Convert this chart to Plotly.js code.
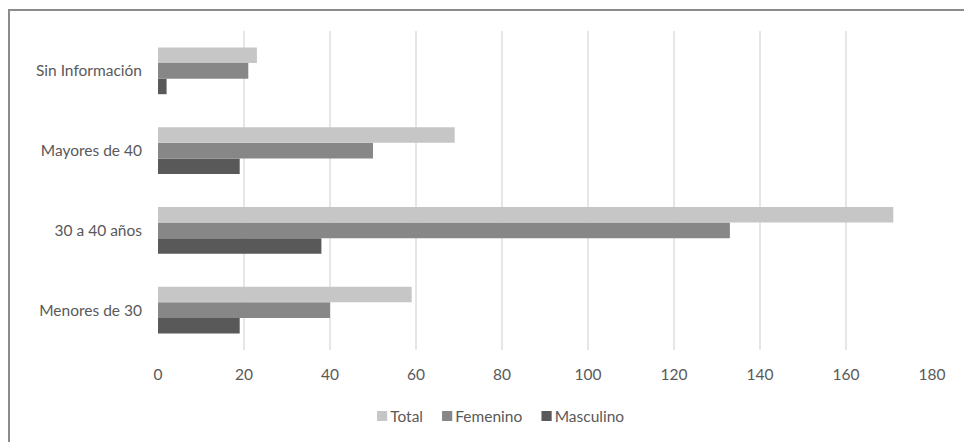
<!DOCTYPE html>
<html>
<head>
<meta charset="utf-8">
<script src="https://cdn.plot.ly/plotly-3.0.1.min.js"></script>
<style>
html,body{margin:0;padding:0;background:#fff;}
#wrap{position:relative;width:964px;height:442px;overflow:hidden;}
#chart{position:absolute;left:0;top:0;width:964px;height:442px;}
#frame{position:absolute;left:8px;top:9px;width:1000px;height:500px;border-top:2px solid #8c8c8c;border-left:2px solid #8c8c8c;pointer-events:none;}
</style>
</head>
<body>
<div id="wrap"><div id="chart"></div><div id="frame"></div></div>
<script>
const categories = ["Menores de 30", "30 a 40 años", "Mayores de 40", "Sin Información"];
const total = [59, 171, 69, 23];
const femenino = [40, 133, 50, 21];
const masculino = [19, 38, 19, 2];
const xTicks = [0, 20, 40, 60, 80, 100, 120, 140, 160, 180];

const font = {family: "Lato, 'Open Sans', sans-serif", size: 15.5, color: "#595959"};

const traces = [
  {type: "bar", orientation: "h", name: "Masculino", y: categories, x: masculino, marker: {color: "#595959"}, legendrank: 3},
  {type: "bar", orientation: "h", name: "Femenino", y: categories, x: femenino, marker: {color: "#878787"}, legendrank: 2},
  {type: "bar", orientation: "h", name: "Total", y: categories, x: total, marker: {color: "#c6c6c6"}, legendrank: 1}
];

const layout = {
  width: 964, height: 442,
  margin: {l: 158, r: 32, t: 31, b: 89},
  paper_bgcolor: "rgba(0,0,0,0)",
  plot_bgcolor: "#fff",
  font: font,
  barmode: "group",
  bargap: 0.415,
  bargroupgap: 0,
  showlegend: true,
  legend: {orientation: "h", x: 0.442, xanchor: "center", y: -0.196, yanchor: "middle", font: font, itemwidth: 30, traceorder: "normal"},
  xaxis: {range: [0, 180], tickvals: xTicks, showgrid: true, gridcolor: "#e6e6e6", gridwidth: 1.5, zeroline: false, showline: false, ticks: "", ticklabelstandoff: 13, fixedrange: true},
  yaxis: {type: "category", showgrid: false, zeroline: false, showline: false, ticks: "", ticklabelstandoff: 15, fixedrange: true}
};

Plotly.newPlot("chart", traces, layout, {displayModeBar: false, staticPlot: true}).then(function () {
  // Compact legend spacing like the reference: small square, text right next to it
  const items = Array.from(document.querySelectorAll("#chart .legend .traces"));
  if (!items.length) return;
  const parseT = function (s) {
    const m = /translate\(\s*([-\d.]+)[ ,]+([-\d.]+)\s*\)/.exec(s || "");
    return m ? [parseFloat(m[1]), parseFloat(m[2])] : [0, 0];
  };
  let wantLeft = 377;
  const wantMid = 416;
  items.forEach(function (g) {
    const pt = g.querySelector(".legendpoints path");
    const txt = g.querySelector(".legendtext");
    if (pt) pt.setAttribute("transform", "scale(0.85)");
    if (!pt || !txt) return;
    let t = parseT(g.getAttribute("transform"));
    let mr = pt.getBoundingClientRect();
    const dxItem = wantLeft - mr.left;
    const dyItem = wantMid - (mr.top + mr.bottom) / 2;
    g.setAttribute("transform", "translate(" + (t[0] + dxItem) + "," + (t[1] + dyItem) + ")");
    mr = pt.getBoundingClientRect();
    let tr = txt.getBoundingClientRect();
    const dxTxt = (mr.right + 3) - tr.left;
    const old = txt.getAttribute("transform") || "";
    txt.setAttribute("transform", old + " translate(" + dxTxt + ",0)");
    tr = txt.getBoundingClientRect();
    wantLeft = tr.right + 19;
  });
});
</script>
</body>
</html>
